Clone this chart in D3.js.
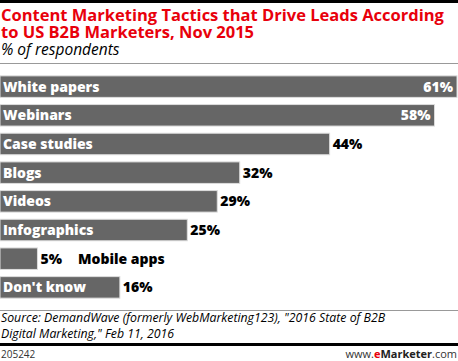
<!DOCTYPE html>
<html>
<head>
<meta charset="utf-8">
<script src="https://cdn.jsdelivr.net/npm/d3@7"></script>
<style>
body { margin: 0; background: #fff; }
svg { display: block; }
</style>
</head>
<body>
<script>
var categories = ["White papers", "Webinars", "Case studies", "Blogs", "Videos", "Infographics", "Mobile apps", "Don't know"];
var values = [61, 58, 44, 32, 29, 25, 5, 16];
var titleLines = ["Content Marketing Tactics that Drive Leads According", "to US B2B Marketers, Nov 2015"];
var subtitle = "% of respondents";
var sourceLines = ["Source: DemandWave (formerly WebMarketing123), \"2016 State of B2B", "Digital Marketing,\" Feb 11, 2016"];
var chartId = "205242";

var W = 458, H = 361;
var svg = d3.select("body").append("svg").attr("width", W).attr("height", H);
var font = "'Open Sans', Arial, sans-serif";

// top rule
svg.append("rect").attr("x", 0).attr("y", 0).attr("width", W).attr("height", 3).attr("fill", "#000");

svg.selectAll("text.title")
    .data(titleLines)
    .enter().append("text")
    .attr("class", "title")
    .attr("x", 1)
    .attr("y", (d, i) => 21 + i * 17)
    .attr("font-family", font)
    .attr("font-weight", "bold")
    .attr("font-size", 16.5)
    .attr("fill", "#e8000b")
    .text(d => d);

svg.append("text")
    .attr("x", 1).attr("y", 55)
    .attr("font-family", font)
    .attr("font-style", "italic")
    .attr("font-size", 15.5)
    .attr("fill", "#000")
    .text(subtitle);

svg.append("rect").attr("x", 0).attr("y", 63).attr("width", W).attr("height", 1).attr("fill", "#999");

var x = d3.scaleLinear().domain([0, 61]).range([0, 457]);
var y = d3.scaleBand().domain(categories).range([73, 301]).paddingInner(0.25).paddingOuter(0.1);

var rows = svg.selectAll("g.row")
    .data(categories.map((c, i) => ({cat: c, val: values[i]})))
    .enter().append("g").attr("class", "row");

rows.append("rect")
    .attr("x", 0)
    .attr("y", d => y(d.cat))
    .attr("width", d => x(d.val))
    .attr("height", y.bandwidth())
    .attr("fill", "#666")
    .attr("stroke", "#ddd")
    .attr("stroke-width", 1);

// labels: inside when the bar is long enough, otherwise after the value
rows.each(function(d) {
    var g = d3.select(this);
    var cy = y(d.cat) + y.bandwidth() / 2 + 5;
    var inside = d.val >= 50;
    var small = d.val < 10;
    var v = g.append("text")
        .attr("y", cy)
        .attr("font-family", font)
        .attr("font-weight", "800")
        .attr("font-size", 14)
        .text(d.val + "%");
    if (inside) {
        v.attr("x", x(d.val) - 4).attr("text-anchor", "end").attr("fill", "#fff");
    } else {
        v.attr("x", x(d.val) + 3).attr("fill", "#000");
    }
    if (small) {
        g.append("text")
            .attr("x", 78).attr("y", cy)
            .attr("font-family", font).attr("font-weight", "800").attr("font-size", 14)
            .attr("fill", "#000")
            .text(d.cat);
    } else {
        g.append("text")
            .attr("x", 3).attr("y", cy)
            .attr("font-family", font).attr("font-weight", "800").attr("font-size", 14)
            .attr("fill", "#fff")
            .text(d.cat);
    }
});

svg.append("rect").attr("x", 0).attr("y", 310).attr("width", W).attr("height", 1).attr("fill", "#999");

svg.selectAll("text.source")
    .data(sourceLines)
    .enter().append("text")
    .attr("class", "source")
    .attr("x", 1)
    .attr("y", (d, i) => 322 + i * 16)
    .attr("font-family", font)
    .attr("font-style", "italic")
    .attr("font-size", 12.3)
    .attr("fill", "#000")
    .text(d => d);

svg.append("rect").attr("x", 0).attr("y", 343).attr("width", W).attr("height", 3).attr("fill", "#000");

svg.append("text")
    .attr("x", 1).attr("y", 358)
    .attr("font-family", font).attr("font-size", 10)
    .attr("fill", "#333")
    .text(chartId);

var brand = svg.append("text")
    .attr("x", W - 1).attr("y", 358)
    .attr("text-anchor", "end")
    .attr("font-family", font).attr("font-size", 11)
    .attr("fill", "#333");
brand.append("tspan").text("www.");
brand.append("tspan").attr("fill", "#e8000b").attr("font-weight", "bold").text("e");
brand.append("tspan").attr("font-weight", "bold").attr("fill", "#222").text("Marketer");
brand.append("tspan").text(".com");
</script>
</body>
</html>
